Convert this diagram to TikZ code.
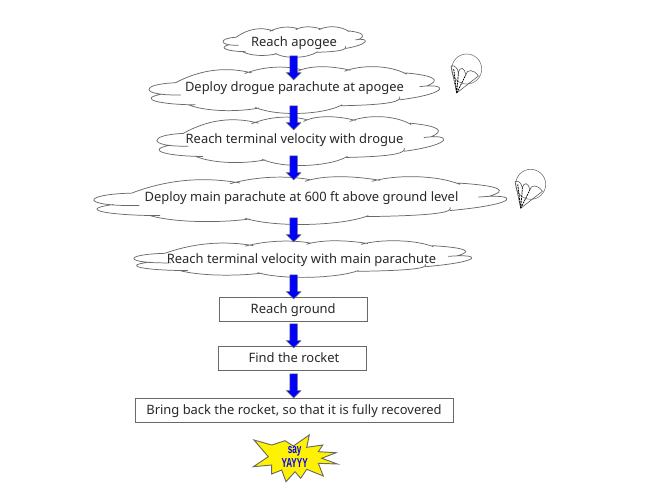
\documentclass[tikz,border=0pt]{standalone}
\usepackage{fontspec}
\setmainfont{Noto Sans}
\newfontfamily\yayfont{Liberation Sans}
\usepackage{graphicx}
\usetikzlibrary{shapes.arrows,positioning,calc}
\definecolor{linegray}{RGB}{105,105,105}
\definecolor{textgray}{RGB}{40,40,40}

% one cloud outline on a 0..1236 x 0..140 grid, #1 joins the lobes
\newcommand{\cloudlobes}[1]{
    (125,68) .. controls (230,28) and (340,18) .. (450,38) #1
    (420,40) .. controls (500,18) and (590,15) .. (660,28) #1
    (645,33) .. controls (700,14) and (790,16) .. (870,30) #1
    (845,33) .. controls (920,12) and (1040,14) .. (1110,42) #1
    (1105,38) .. controls (1230,46) and (1260,60) .. (1195,78) #1
    (1165,80) .. controls (1285,68) and (1300,100) .. (1080,120) #1
    (1080,110) .. controls (1090,125) and (1040,135) .. (830,138) #1
    (835,135) .. controls (760,165) and (560,172) .. (465,143) #1
    (480,145) .. controls (380,158) and (250,155) .. (180,135) #1
    (210,135) .. controls (70,135) and (-50,118) .. (70,102) #1
    (148,105) .. controls (-30,108) and (-30,72) .. (125,68)
}
% name, text, left, right, top, bottom, text x, text y
\newcommand{\cloudnode}[8]{
    \begin{scope}[shift={(#3,#5)},xscale={(#4-#3)/1236},yscale={(#6-#5)/140},shift={(-12,-20)}]
        \fill[white] \cloudlobes{--} -- cycle;
        \draw[outl] \cloudlobes{};
    \end{scope}
    \node[steptext] (#1) at (#7,#8) {#2};
}
% from, to, offset from first, offset from second
\newcommand{\flowarrow}[4]{
    \path ($(axis |- #1)+(0,#3)$) -- ($(axis |- #2)+(0,#4)$) node[midway,flowtip] {\rule{0pt}{5.25pt}};
}

\begin{document}
\begin{tikzpicture}[
    x=0.75pt,y=-0.75pt,
    outl/.style={draw=linegray,line width=0.55pt},
    steptext/.style={font=\fontsize{9.7}{12}\selectfont,text=textgray,inner sep=0pt},
    stepbox/.style={draw=linegray,line width=0.7pt,fill=white,font=\fontsize{9.7}{12}\selectfont,text=textgray,
        inner sep=0pt,text height=8pt,text depth=2pt},
    flowtip/.style={single arrow,draw=linegray,fill=blue,line width=0.4pt,rotate=-90,
        minimum height=18pt,single arrow head extend=2.6pt,inner sep=0pt,
        single arrow head indent=0pt},
    chute/.pic={
        \draw[linegray,line width=0.4pt] (10,-24) circle[radius=15];
        \draw[black!70,line width=0.4pt] (0,0) -- (-5.7,-27) (0,0) -- (21.7,-17);
        \draw[black!70,line width=0.4pt] (-5.7,-27) .. controls (-2,-28) and (1,-25) .. (1.7,-20)
            .. controls (3,-27) and (8,-26) .. (9,-18) .. controls (10,-24) and (17,-24) .. (21.7,-17);
        \draw[black,line width=0.6pt,dash pattern=on 1.5pt off 0.6pt] (0,0) -- (1.7,-20) (0,0) -- (9,-18)
            (0,0) -- (-3,-24);
    },
]
    \useasboundingbox (0,0) rectangle (660,489);
    \coordinate (axis) at (293.7,0);

    % Clouds
    \cloudnode{apogee}{Reach apogee}{223}{365}{27}{57}{294}{43}
    \cloudnode{drogue}{Deploy drogue parachute at apogee}{149}{439}{67}{113}{294.5}{88}
    \cloudnode{termdrogue}{Reach terminal velocity with drogue}{157}{443}{117}{165}{294.5}{140}
    \cloudnode{mainchute}{Deploy main parachute at 600 ft above ground level}{94}{506}{177}{224}{301.5}{198}
    \cloudnode{termmain}{Reach terminal velocity with main parachute}{134}{471}{241}{277}{301.5}{260}

    % Boxes
    \node[stepbox,minimum width=111pt,minimum height=18pt] (ground) at (293.2,309) {Reach ground};
    \node[stepbox,minimum width=111pt,minimum height=18pt] (find) at (292,358.7) {\hspace{3pt}Find the rocket};
    \node[stepbox,minimum width=238.5pt,minimum height=18.5pt] (back) at (294,410.5) {Bring back the rocket, so that it is fully recovered};

    % Arrows
    \flowarrow{apogee}{drogue}{11}{-10}
    \flowarrow{drogue}{termdrogue}{16}{-12}
    \flowarrow{termdrogue}{mainchute}{14}{-20}
    \flowarrow{mainchute}{termmain}{18}{-20}
    \flowarrow{termmain}{ground}{13}{-12}
    \flowarrow{ground}{find}{13}{-12.7}
    \flowarrow{find}{back}{13.3}{-14.5}

    % Star
    \draw[linegray,line width=0.7pt,fill=yellow] (254,440) -- (271.7,445) -- (285,440.7) -- (293.3,446) -- (309.3,435)
        -- (306.7,447.3) -- (322.7,445) -- (318.3,451.7) -- (336,452.7) -- (321.7,458.3) -- (337.3,464)
        -- (318.3,463.3) -- (323.3,476) -- (306.7,469.3) -- (300.7,478.3) -- (295,471.7) -- (286,481.7)
        -- (281.7,470) -- (271.7,474) -- (271.7,465) -- (253.3,466.7) -- (268.3,456.7) -- cycle;
    \node[font=\yayfont\bfseries\fontsize{8.5}{9}\selectfont,text=blue,inner sep=0pt,align=center] (yay) at (294.7,456.5)
        {\scalebox{0.72}[1.15]{say}\\[1.5pt]\scalebox{0.72}[1.15]{YAYYY}};

    % Parachutes
    \pic at (456.7,93) {chute};
    \pic at (520.7,208.3) {chute};
\end{tikzpicture}
\end{document}
